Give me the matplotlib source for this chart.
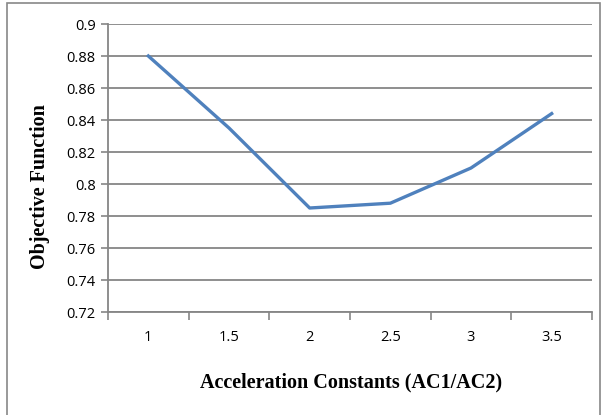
import matplotlib
matplotlib.use("Agg")
import matplotlib.pyplot as plt
from matplotlib.patches import Rectangle

# data
categories = ["1", "1.5", "2", "2.5", "3", "3.5"]
objective = [0.880, 0.835, 0.785, 0.788, 0.810, 0.844]
yticks = [0.72, 0.74, 0.76, 0.78, 0.80, 0.82, 0.84, 0.86, 0.88, 0.90]
ytick_labels = ["0.72", "0.74", "0.76", "0.78", "0.8", "0.82", "0.84", "0.86", "0.88", "0.9"]

fig = plt.figure(figsize=(6.08, 4.15), dpi=100)
# outer chart border
fig.patches.append(Rectangle((7/608, -0.01), 593/608, 1 - 3/415 + 0.01,
                             transform=fig.transFigure, fill=False,
                             edgecolor="#888888", linewidth=1.2))

ax = fig.add_axes([108/608, 1 - 312/415, 484/608, 288/415])
x = list(range(len(categories)))
ax.plot(x, objective, color="#4F81BD", linewidth=2.4, zorder=3)

ax.set_xlim(-0.5, len(categories) - 0.5)
ax.set_ylim(0.72, 0.90)

# y axis
ax.set_yticks(yticks)
ax.set_yticklabels(ytick_labels, fontsize=10.5, family="Open Sans")
ax.yaxis.grid(True, color="#868686", linewidth=1.3)
ax.set_axisbelow(True)

# category axis: tick marks between categories, labels at centres
ax.set_xticks([i - 0.5 for i in range(len(categories) + 1)])
ax.set_xticklabels([])
ax.set_xticks(x, minor=True)
ax.set_xticklabels(categories, minor=True, fontsize=10.5, family="Open Sans")
ax.tick_params(axis="x", which="minor", length=0, pad=13)
ax.tick_params(axis="x", which="major", length=6, color="#868686", width=1.2)
ax.tick_params(axis="y", length=5, color="#868686", width=1.2, pad=4)

for s in ["top", "right"]:
    ax.spines[s].set_visible(False)
for s in ["left", "bottom"]:
    ax.spines[s].set_color("#868686")
    ax.spines[s].set_linewidth(1.3)

fig.text(351/608, 1 - 382/415, "Acceleration Constants (AC1/AC2)",
         ha="center", va="center", fontsize=14.5, fontweight="bold",
         family="Liberation Serif")
fig.text(40/608, 1 - 187/415, "Objective Function", rotation=90,
         ha="center", va="center", fontsize=14.5, fontweight="bold",
         family="Liberation Serif")

fig.savefig("out.png", dpi=100)
